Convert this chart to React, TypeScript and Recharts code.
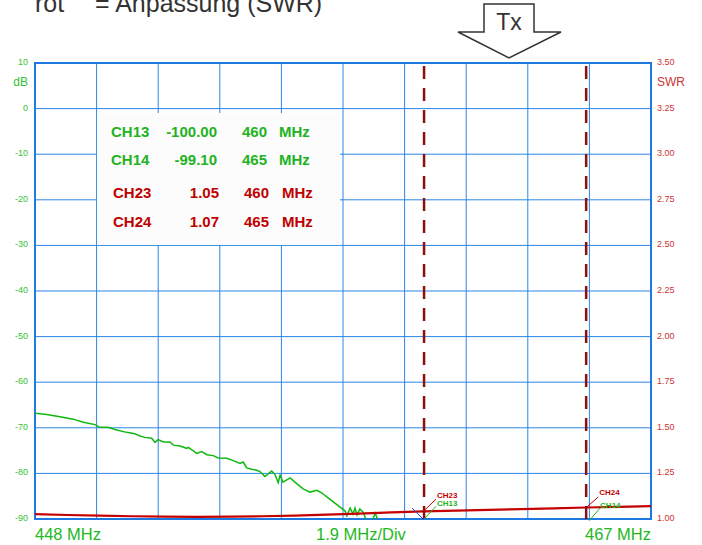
import React from 'react';
import { LineChart, Line, XAxis, YAxis, CartesianGrid, ReferenceLine, ReferenceArea, ReferenceDot } from 'recharts';

// sweep 448..467 MHz, 1.9 MHz per division
const xTicks = [448, 449.9, 451.8, 453.7, 455.6, 457.5, 459.4, 461.3, 463.2, 465.1, 467];
const dbTicks = [-90, -80, -70, -60, -50, -40, -30, -20, -10, 0, 10];
const swrTicks = [1, 1.25, 1.5, 1.75, 2, 2.25, 2.5, 2.75, 3, 3.25, 3.5];

// green trace: transmission (dB)
const greenFreq = [
  448.0, 448.36, 448.77, 449.18, 449.49, 449.85, 450.0, 450.25, 450.52, 450.83,
  451.08, 451.24, 451.39, 451.6, 451.7, 451.8, 451.96, 452.16, 452.27, 452.47,
  452.68, 452.73, 452.99, 453.14, 453.3, 453.5, 453.65, 453.91, 454.12, 454.32,
  454.42, 454.53, 454.68, 454.84, 454.94, 455.09, 455.3, 455.4, 455.5, 455.56,
  455.65, 455.87, 456.08, 456.27, 456.48, 456.7, 456.85, 457.01, 457.19, 457.41,
  457.56, 457.62, 457.72, 457.81, 457.87, 457.93, 458.02, 458.12, 458.21, 458.33,
  458.49, 458.58, 458.67, 459.0, 459.5, 460.0, 461.0, 462.0, 463.0, 464.0,
  465.0, 466.0, 467.0,
];
const greenDb = [
  -66.8, -67.1, -67.6, -68.1, -68.8, -69.3, -69.9, -69.9, -70.5, -71.0,
  -71.3, -71.8, -72.1, -72.3, -73.2, -72.6, -73.1, -73.1, -73.8, -74.0,
  -74.5, -74.3, -75.6, -75.2, -75.9, -76.1, -76.6, -76.7, -77.2, -77.8,
  -77.5, -78.8, -79.1, -79.3, -79.6, -80.7, -79.5, -80.2, -82.0, -80.4,
  -81.9, -81.0, -82.3, -83.4, -84.1, -83.7, -84.3, -85.2, -86.2, -87.4,
  -88.2, -89.3, -87.6, -88.9, -87.6, -89.1, -87.8, -88.5, -90.1, -92.0,
  -88.7, -90.2, -93.0, -95.0, -97.0, -100.0, -99.5, -99.8, -99.4, -99.6,
  -99.1, -99.5, -99.3,
];

// red trace: SWR
const redFreq = [448, 449, 450, 451, 452, 453, 454, 455, 456, 457, 458, 459, 460, 461, 462, 463, 464, 465, 466, 467];
const redSwr = [1.027, 1.022, 1.019, 1.015, 1.013, 1.012, 1.013, 1.015, 1.018, 1.024, 1.03, 1.036, 1.042, 1.046, 1.05, 1.054, 1.058, 1.063, 1.067, 1.071];

// marker readouts
const markerFreq = [460, 465];
const greenMarkers = [
  { ch: 'CH13', val: '-100.00', f: '460' },
  { ch: 'CH14', val: '-99.10', f: '465' },
];
const redMarkers = [
  { ch: 'CH23', val: '1.05', f: '460' },
  { ch: 'CH24', val: '1.07', f: '465' },
];

const greenData = greenFreq.map((f, i) => ({ f, db: greenDb[i] }));
const redData = redFreq.map((f, i) => ({ f, swr: redSwr[i] }));

const GRID = '#2a86e6';
const GREEN_TXT = '#1fb31f';
const RED_TXT = '#c00000';

const LeftTick = (props: any) => (
  <text x={28} y={props.y} dy={2} textAnchor="end" fontSize={9} fill="#33c233">
    {props.payload.value}
  </text>
);

const RightTick = (props: any) => (
  <text x={657} y={props.y} dy={2} textAnchor="start" fontSize={9} fill="#cc3333">
    {Number(props.payload.value).toFixed(2)}
  </text>
);

const tag = (label: string, color: string) => (p: any) => (
  <text x={p.cx} y={p.cy} fontSize={8} fontWeight="bold" fill={color}>
    {label}
  </text>
);

export default function App() {
  return (
    <div style={{ position: 'absolute', left: 0, top: 0, width: 702, height: 545, background: '#fff', fontFamily: '"Liberation Sans", Arial, sans-serif' }}>
      <LineChart width={702} height={545} margin={{ top: 63, right: 0, bottom: 26, left: 0 }}>
        <CartesianGrid yAxisId="left" stroke={GRID} strokeWidth={1} />
        <XAxis type="number" dataKey="f" domain={[448, 467]} ticks={xTicks} hide allowDataOverflow />
        <YAxis yAxisId="left" domain={[-90, 10]} ticks={dbTicks} width={35} axisLine={false} tickLine={false} tick={<LeftTick />} allowDataOverflow interval={0} />
        <YAxis yAxisId="right" orientation="right" domain={[1, 3.5]} ticks={swrTicks} width={51} axisLine={false} tickLine={false} tick={<RightTick />} allowDataOverflow interval={0} />
        <ReferenceArea yAxisId="left" x1={448} x2={467} y1={-90} y2={10} fill="none" fillOpacity={0} stroke="#1e7ae0" strokeWidth={2} />

        <Line yAxisId="left" data={greenData} dataKey="db" type="linear" stroke="#10b810" strokeWidth={1.5} dot={false} isAnimationActive={false} />
        <Line yAxisId="right" data={redData} dataKey="swr" type="linear" stroke="#c40000" strokeWidth={2.2} dot={false} isAnimationActive={false} />

        {markerFreq.map((f) => (
          <ReferenceLine key={f} yAxisId="left" x={f} stroke="#8b1010" strokeWidth={2.5} strokeDasharray="13 9" ifOverflow="visible" />
        ))}

        <ReferenceLine yAxisId="left" segment={[{ x: 459.63, y: -87.6 }, { x: 459.97, y: -90 }]} stroke="#1a3fd8" strokeWidth={1} ifOverflow="visible" />
        <ReferenceLine yAxisId="right" segment={[{ x: 460, y: 1.045 }, { x: 460.37, y: 1.109 }]} stroke={RED_TXT} strokeWidth={1} ifOverflow="visible" />
        <ReferenceLine yAxisId="left" segment={[{ x: 460, y: -90 }, { x: 460.37, y: -87.2 }]} stroke={GREEN_TXT} strokeWidth={1} ifOverflow="visible" />
        <ReferenceLine yAxisId="right" segment={[{ x: 465, y: 1.063 }, { x: 465.37, y: 1.12 }]} stroke={RED_TXT} strokeWidth={1} ifOverflow="visible" />
        <ReferenceLine yAxisId="left" segment={[{ x: 465.09, y: -90.4 }, { x: 465.43, y: -87.6 }]} stroke={GREEN_TXT} strokeWidth={1} ifOverflow="visible" />

        <ReferenceDot yAxisId="right" x={460.4} y={1.115} ifOverflow="visible" shape={tag('CH23', RED_TXT)} />
        <ReferenceDot yAxisId="left" x={460.4} y={-87.2} ifOverflow="visible" shape={tag('CH13', GREEN_TXT)} />
        <ReferenceDot yAxisId="right" x={465.4} y={1.131} ifOverflow="visible" shape={tag('CH24', RED_TXT)} />
        <ReferenceDot yAxisId="left" x={465.43} y={-87.6} ifOverflow="visible" shape={tag('CH14', GREEN_TXT)} />
      </LineChart>

      <svg width={702} height={545} style={{ position: 'absolute', left: 0, top: 0, pointerEvents: 'none' }}>
        <text x={35} y={12} fontSize={25} fill="#333">rot</text>
        <text x={95} y={12} fontSize={25} fill="#333">= Anpassung (SWR)</text>

        <polygon points="484,4 534,4 534,32 561,32 509,58 458,32 484,32" fill="#fff" stroke="#333" strokeWidth={1.5} />
        <text x={509} y={30} fontSize={23} textAnchor="middle" fill="#333">Tx</text>

        <text x={28} y={86} fontSize={12} textAnchor="end" fill="#33c233">dB</text>
        <text x={657} y={86} fontSize={12} fill="#cc3333">SWR</text>

        <rect x={97} y={113} width={243} height={132} fill="#fcfcfc" />
        {greenMarkers.map((m, i) => (
          <g key={m.ch} fontSize={15} fontWeight="bold" fill={GREEN_TXT}>
            <text x={111} y={137 + i * 28}>{m.ch}</text>
            <text x={217} y={137 + i * 28} textAnchor="end">{m.val}</text>
            <text x={267} y={137 + i * 28} textAnchor="end">{m.f}</text>
            <text x={279} y={137 + i * 28}>MHz</text>
          </g>
        ))}
        {redMarkers.map((m, i) => (
          <g key={m.ch} fontSize={15} fontWeight="bold" fill={RED_TXT}>
            <text x={113} y={198 + i * 29}>{m.ch}</text>
            <text x={219} y={198 + i * 29} textAnchor="end">{m.val}</text>
            <text x={269} y={198 + i * 29} textAnchor="end">{m.f}</text>
            <text x={282} y={198 + i * 29}>MHz</text>
          </g>
        ))}

        <text x={35} y={540} fontSize={16.5} fill="#22b822">448 MHz</text>
        <text x={316} y={540} fontSize={16.5} fill="#22b822">1.9 MHz/Div</text>
        <text x={651} y={540} fontSize={16.5} textAnchor="end" fill="#22b822">467 MHz</text>
      </svg>
    </div>
  );
}
